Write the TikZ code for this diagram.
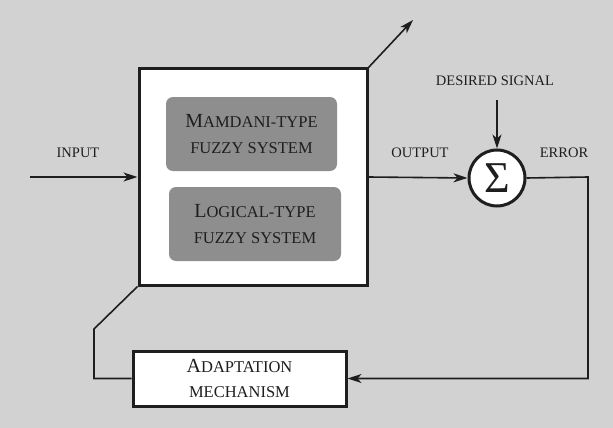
\documentclass[tikz,border=0pt]{standalone}
\usepackage{fontspec}
\setmainfont{Liberation Serif}
\usetikzlibrary{arrows.meta}
\definecolor{bggray}{RGB}{210,210,210}
\definecolor{boxgray}{RGB}{142,142,142}
\definecolor{ink}{RGB}{30,30,30}
% fake small caps: a large initial followed by smaller capitals
\newcommand{\fsc}[2]{{\fontsize{20}{26}\selectfont #1}{\fontsize{16.5}{26}\selectfont #2}}
\newcommand{\fscline}[1]{{\fontsize{16.5}{26}\selectfont #1}}
\begin{document}
\begin{tikzpicture}[x=1pt,y=-1pt,
  every node/.style={text=ink},
  frame/.style={draw=ink,line width=3pt,fill=white,inner sep=0pt},
  inner/.style={fill=boxgray,rounded corners=7pt,inner sep=0pt,align=center,
    font=\fontsize{16.5}{26}\selectfont},
  lbl/.style={font=\fontsize{14.5}{16}\selectfont},
  wire/.style={draw=ink,line width=1.6pt},
  sig/.style={wire,-{Stealth[length=14pt,width=9pt,inset=4pt]}}]
  \fill[bggray] (0,0) rectangle (613,428);
  \useasboundingbox (0,0) rectangle (613,428);

  % fuzzy system block
  \node[frame,minimum width=228pt,minimum height=216pt] (sys) at (253,177) {};
  \node[inner,minimum width=171pt,minimum height=74pt] (mam) at (251.5,134)
    {\fsc{M}{AMDANI-TYPE}\\\fscline{FUZZY SYSTEM}};
  \node[inner,minimum width=172pt,minimum height=74pt] (log) at (255,224)
    {\fsc{L}{OGICAL-TYPE}\\\fscline{FUZZY SYSTEM}};

  % summing junction
  \node[draw=ink,line width=3pt,fill=white,circle,minimum size=56pt,inner sep=0pt] (sum) at (497,178)
    {\fontsize{44}{44}\selectfont\raisebox{-3pt}{Σ}};

  % adaptation block
  \node[frame,minimum width=213pt,minimum height=55pt,align=center,
    font=\fontsize{16.5}{25}\selectfont] (adapt) at (239.5,378.5)
    {\fsc{A}{DAPTATION}\\\fscline{MECHANISM}};

  % labels
  \node[lbl] (lin) at (78,153) {INPUT};
  \node[lbl] (lout) at (420,153) {OUTPUT};
  \node[lbl] (lerr) at (564,153) {ERROR};
  \node[lbl] (ldes) at (495,81) {DESIRED SIGNAL};

  % connector end points
  \coordinate (src) at (30,177);
  \coordinate (tune) at (413,20);
  \coordinate (dsrc) at (497,100);
  \coordinate (ecorner) at (588,177);
  \coordinate (bcorner) at (588,378.5);
  \coordinate (lcorner) at (94,378.5);
  \coordinate (lbend) at (94,329);

  % signal flow
  \draw[sig] (src) -- (sys.west);
  \draw[sig] (sys.east) -- (sum.west);
  \draw[sig] (dsrc) -- (sum.north);
  \draw[sig] (sum.east) -- (ecorner) -- (bcorner) -- (adapt.east);
  \draw[wire] (adapt.west) -- (lcorner) -- (lbend) -- (sys.south west);
  \draw[sig] (sys.north east) -- (tune);
\end{tikzpicture}
\end{document}
